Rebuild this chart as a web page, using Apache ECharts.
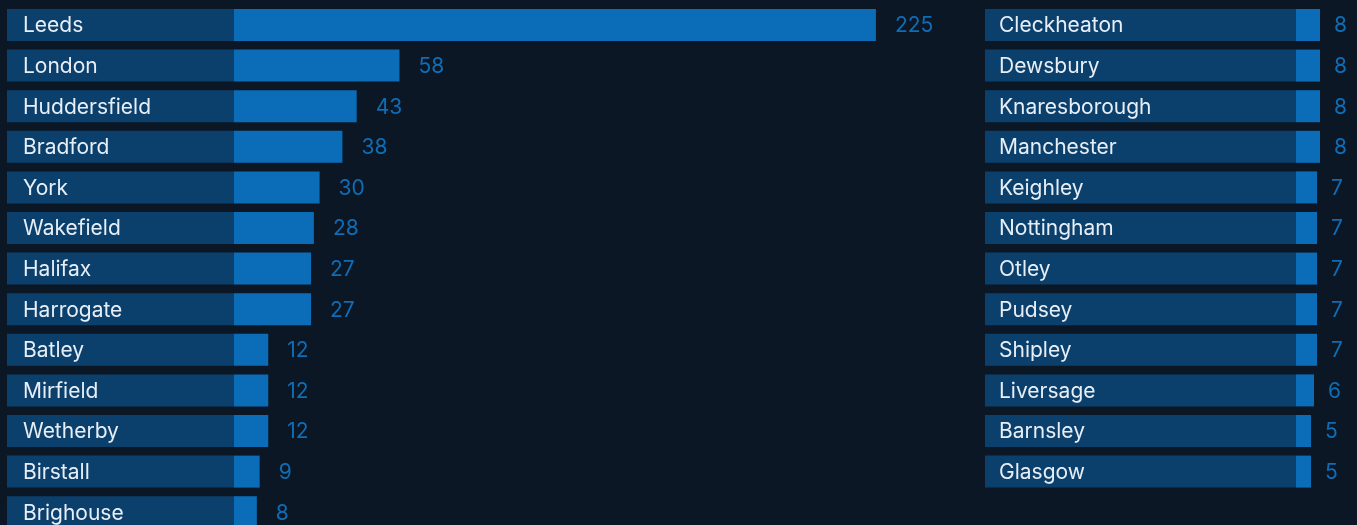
<!DOCTYPE html>
<html>
<head>
<meta charset="utf-8">
<script src="https://cdn.jsdelivr.net/npm/echarts@6/dist/echarts.min.js"></script>
<style>
  html, body { margin: 0; padding: 0; background: #0c1726; overflow: hidden; }
  /* a bit taller than the window: the last left row is cut by the window edge */
  #app { width: 1357px; height: 540px; }
</style>
</head>
<body>
<div id="app"></div>
<script>
// left column
const leftCities = ["Leeds", "London", "Huddersfield", "Bradford", "York", "Wakefield",
  "Halifax", "Harrogate", "Batley", "Mirfield", "Wetherby", "Birstall", "Brighouse"];
const leftCounts = [225, 58, 43, 38, 30, 28, 27, 27, 12, 12, 12, 9, 8];

// right column
const rightCities = ["Cleckheaton", "Dewsbury", "Knaresborough", "Manchester", "Keighley",
  "Nottingham", "Otley", "Pudsey", "Shipley", "Liversage", "Barnsley", "Glasgow"];
const rightCounts = [8, 8, 8, 8, 7, 7, 7, 7, 7, 6, 5, 5];

const FONT = "Inter, 'Noto Sans', sans-serif";
const DARK = "#0b406d";
const BLUE = "#0b6db8";
const ROW = 40.6;
const TOP = 4.7;

// px per unit and the width of the name block, per column
const leftScale = 2.853, rightScale = 3;
const leftPad = 227 / leftScale, rightPad = 311 / rightScale;

function column(idx, cities, counts, pad, nameInset, valueGap) {
  return [
    {
      type: "bar", stack: "c" + idx, xAxisIndex: idx, yAxisIndex: idx,
      barWidth: 32, silent: true,
      itemStyle: { color: DARK },
      label: {
        show: true, position: "insideLeft", distance: nameInset, offset: [0, 1],
        formatter: "{b}", color: "#e8eef6", fontSize: 21, fontFamily: FONT
      },
      data: cities.map(() => pad)
    },
    {
      type: "bar", stack: "c" + idx, xAxisIndex: idx, yAxisIndex: idx,
      barWidth: 32, silent: true,
      itemStyle: { color: BLUE },
      label: {
        show: true, position: "right", distance: valueGap, offset: [0, 1],
        color: "#0f6db6", fontSize: 21, fontFamily: FONT
      },
      data: counts
    }
  ];
}

const chart = echarts.init(document.getElementById("app"));
chart.setOption({
  backgroundColor: "#0c1726",
  animation: false,
  grid: [
    { left: 7, top: TOP, width: 330 * leftScale, height: ROW * leftCities.length },
    { left: 985, top: TOP, width: 124 * rightScale, height: ROW * rightCities.length }
  ],
  xAxis: [
    { gridIndex: 0, type: "value", min: 0, max: 330, show: false },
    { gridIndex: 1, type: "value", min: 0, max: 124, show: false }
  ],
  yAxis: [
    { gridIndex: 0, type: "category", inverse: true, data: leftCities, show: false },
    { gridIndex: 1, type: "category", inverse: true, data: rightCities, show: false }
  ],
  series: [
    ...column(0, leftCities, leftCounts, leftPad, 16, 19),
    ...column(1, rightCities, rightCounts, rightPad, 14, 14)
  ]
});
</script>
</body>
</html>
